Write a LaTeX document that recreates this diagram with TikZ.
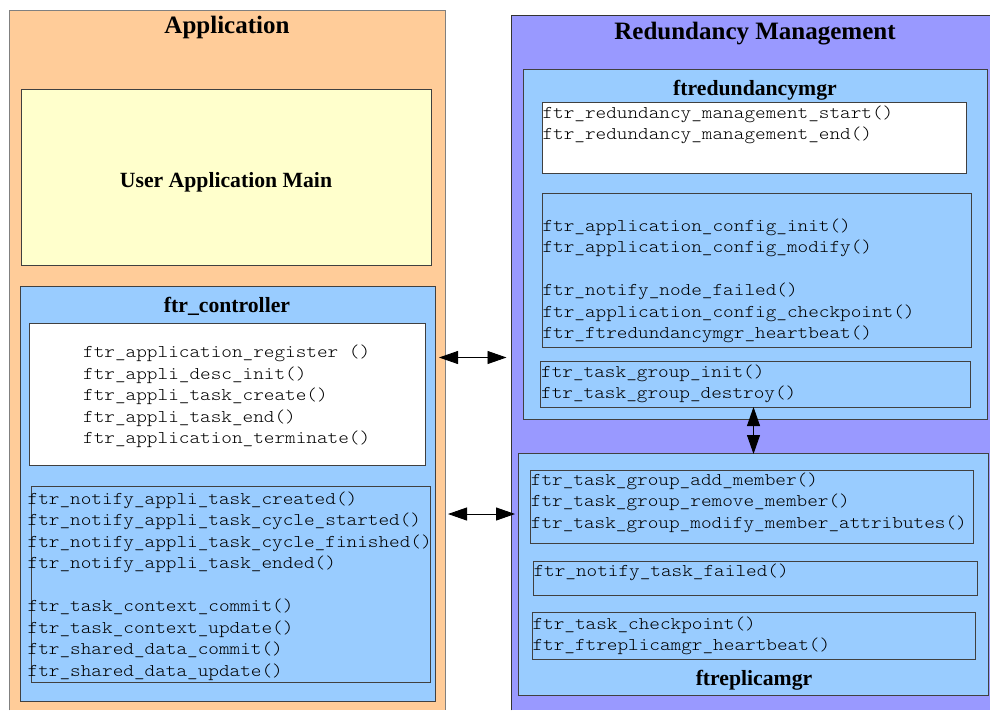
\documentclass[tikz,border=0pt]{standalone}
\usepackage{fontspec}
\setmainfont{Liberation Serif}
\setmonofont[FakeStretch=1.125]{Latin Modern Mono Light}
\usetikzlibrary{arrows.meta}
\definecolor{peach}{HTML}{FFCC99}
\definecolor{paleyellow}{HTML}{FFFFCC}
\definecolor{ltblue}{HTML}{99CCFF}
\definecolor{lavender}{HTML}{9999FF}
\tikzset{
  box/.style={draw=black!75, line width=0.8pt, inner sep=0pt, anchor=north west},
  bare/.style={inner sep=0pt, anchor=north west},
  mono/.style={inner sep=0pt, anchor=base west, align=left, font=\fontsize{18pt}{21.5pt}\selectfont\ttfamily},
  bigtitle/.style={inner sep=0pt, anchor=base, font=\fontsize{25pt}{30pt}\selectfont\bfseries},
  subtitle/.style={inner sep=0pt, anchor=base, font=\fontsize{21.7pt}{26pt}\selectfont\bfseries},
  dbl/.style={{Triangle[length=19pt,width=13pt]}-{Triangle[length=19pt,width=13pt]}, line width=0.9pt},
}
\begin{document}
\begin{tikzpicture}[x=1pt,y=-1pt]
\useasboundingbox (0,0) rectangle (990,710);
\fill[white] (0,0) rectangle (990,710);

% Application outer
\node[bare, fill=peach, minimum width=436pt, minimum height=700pt] (app) at (9,10) {};
\draw[black!50, line width=1pt] (app.south west) -- (app.north west) -- (app.north east) -- (app.south east);
\node[bigtitle] (apptitle) at (227,33.3) {Application};

\node[box, fill=paleyellow, minimum width=410pt, minimum height=176pt] (uam) at (21,89) {};
\node[subtitle] (uamtext) at (226,187.7) {User Application Main};

% ftr_controller
\node[box, fill=ltblue, minimum width=415pt, minimum height=415pt] (ctrl) at (20,286) {};
\node[subtitle] (ctrltitle) at (227,312.7) {ftr\_controller};
\node[box, fill=white, minimum width=396pt, minimum height=142pt] (ctrlwhite) at (29,323) {};
\node[mono] (ctrltext) at (83,443.5) {ftr\_application\_register ()\\ftr\_appli\_desc\_init()\\ftr\_appli\_task\_create()\\ftr\_appli\_task\_end()\\ftr\_application\_terminate()};
\node[box, fill=ltblue, minimum width=399pt, minimum height=196pt] (notify) at (31,486) {};
\node[mono] (notifytext) at (27.5,676) {ftr\_notify\_appli\_task\_created()\\ftr\_notify\_appli\_task\_cycle\_started()\\ftr\_notify\_appli\_task\_cycle\_finished()\\ftr\_notify\_appli\_task\_ended()\\[21.5pt]ftr\_task\_context\_commit()\\ftr\_task\_context\_update()\\ftr\_shared\_data\_commit()\\ftr\_shared\_data\_update()};

% Redundancy Management outer
\node[bare, fill=lavender, minimum width=479pt, minimum height=695pt] (red) at (511,15) {};
\draw[black!80, line width=1pt] (red.south west) -- (red.north west) -- (red.north east);
\node[bigtitle] (redtitle) at (755,39.3) {Redundancy Management};

% ftredundancymgr
\node[box, fill=ltblue, minimum width=464pt, minimum height=350pt] (rmgr) at (523,69) {};
\node[subtitle] (rmgrtitle) at (755,95) {ftredundancymgr};
\node[box, fill=white, minimum width=424pt, minimum height=71pt] (rwhite) at (542,102) {};
\node[mono] (rwhitetext) at (542.3,139.5) {ftr\_redundancy\_management\_start()\\ftr\_redundancy\_management\_end()};
\node[box, fill=ltblue, minimum width=429pt, minimum height=154pt] (rconf) at (542,193) {};
\node[mono] (rconftext) at (542.3,338.5) {ftr\_application\_config\_init()\\ftr\_application\_config\_modify()\\[21.5pt]ftr\_notify\_node\_failed()\\ftr\_application\_config\_checkpoint()\\ftr\_ftredundancymgr\_heartbeat()};
\node[box, fill=ltblue, minimum width=430pt, minimum height=46pt] (rgroup) at (540,361) {};
\node[mono] (rgrouptext) at (541,398.5) {ftr\_task\_group\_init()\\ftr\_task\_group\_destroy()};

% ftreplicamgr
\node[box, fill=ltblue, minimum width=470pt, minimum height=242pt] (rep) at (518,453) {};
\node[subtitle] (reptitle) at (754,685) {ftreplicamgr};
\node[box, fill=ltblue, minimum width=443pt, minimum height=73pt] (repa) at (530,470) {};
\node[mono] (repatext) at (530.7,528) {ftr\_task\_group\_add\_member()\\ftr\_task\_group\_remove\_member()\\ftr\_task\_group\_modify\_member\_attributes()};
\node[box, fill=ltblue, minimum width=444pt, minimum height=34pt] (repb) at (533,561) {};
\node[mono] (repbtext) at (533.3,576) {ftr\_notify\_task\_failed()};
\node[box, fill=ltblue, minimum width=443pt, minimum height=47pt] (repc) at (532,612) {};
\node[mono] (repctext) at (532.3,650.5) {ftr\_task\_checkpoint()\\ftr\_ftreplicamgr\_heartbeat()};

% connectors
\coordinate (a1s) at (439,357.5);
\coordinate (a1e) at (506.5,357.5);
\draw[dbl] (a1s) -- (a1e);
\coordinate (a2s) at (448,514);
\coordinate (a2e) at (515,514);
\draw[dbl] (a2s) -- (a2e);
\coordinate (a3s) at (753.5,407);
\coordinate (a3e) at (753.5,454);
\draw[dbl] (a3s) -- (a3e);
\end{tikzpicture}
\end{document}
